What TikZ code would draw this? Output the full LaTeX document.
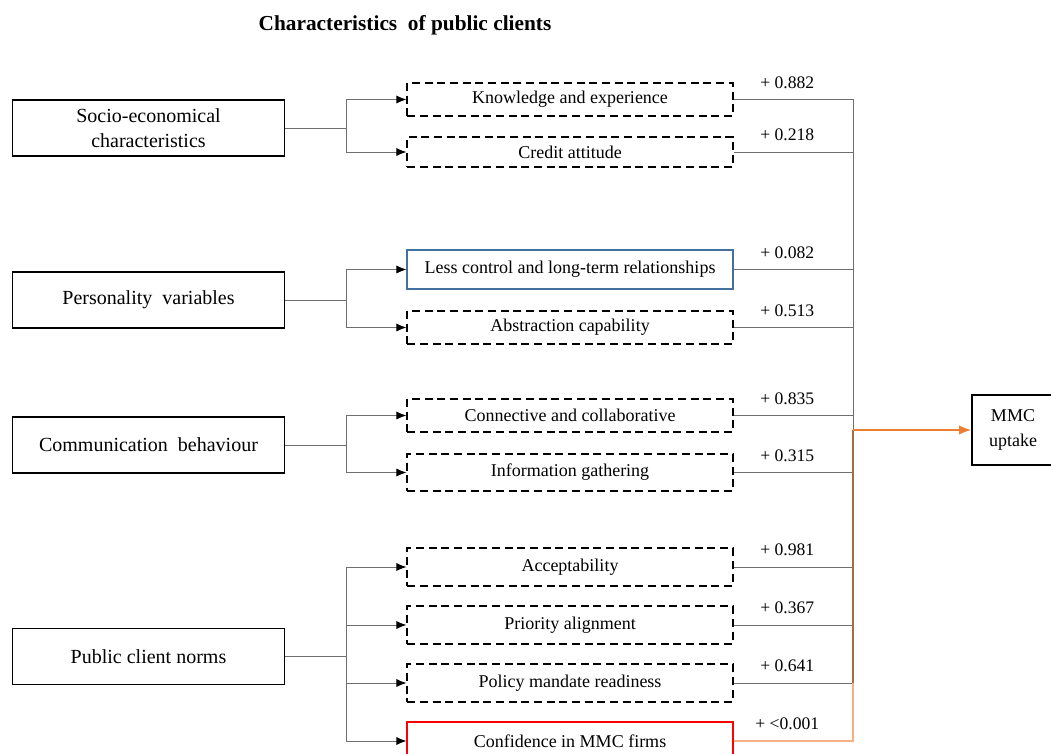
\documentclass[tikz,border=0pt]{standalone}
\usepackage{fontspec}
\setmainfont{Liberation Serif}
\usetikzlibrary{arrows.meta}
\definecolor{boxblue}{HTML}{41719C}
\definecolor{linkgray}{HTML}{6F6F6F}
\definecolor{uporange}{HTML}{ED7D31}
\definecolor{upbrown}{HTML}{A86A42}
\definecolor{uplight}{HTML}{F4B183}
\tikzset{
	groupbox/.style={draw, line width=1.4pt, minimum width=204pt, minimum height=42pt,
		align=center, font=\fontsize{15}{19}\selectfont},
	factor/.style={draw, line width=1.3pt, dash pattern=on 6pt off 3.5pt,
		minimum width=244pt, minimum height=28pt, font=\fontsize{13.5}{16}\selectfont},
	link/.style={draw=linkgray, line width=0.6pt, -{Latex[length=7.5pt,width=6pt,color=black]}},
	rlink/.style={draw=linkgray, line width=0.6pt},
	val/.style={above=7pt, pos=0.45, inner sep=1pt, font=\fontsize{13.2}{16}\selectfont},
}
\newcommand{\branchto}[2]{%
	\draw[link] (#1.east) -- ++(61,0) |- (#2.west);
}

\begin{document}
\begin{tikzpicture}[x=0.75pt, y=-0.75pt]
	\useasboundingbox (0,0) rectangle (1051,754);
	\node[font=\fontsize{16}{19}\selectfont\bfseries] (title) at (405,25) {Characteristics\ \ of public clients};
	% groups of client characteristics
	\node[groupbox] (soc) at (148.5,128) {Socio-economical\\characteristics};
	\node[groupbox] (pers) at (148.5,300) {Personality\ \ variables};
	\node[groupbox] (comm) at (148.5,445) {Communication\ \ behaviour};
	\node[groupbox] (norm) at (148.5,656.5) {Public client norms};
	% factors
	\node[factor, minimum height=25pt] (know) at (570,99.5) {Knowledge and experience};
	\node[factor, minimum height=22.5pt] (cred) at (570,152) {Credit attitude};
	\node[factor, solid, draw=boxblue, minimum height=29pt] (less) at (570,269.5) {Less control and long-term relationships};
	\node[factor, minimum height=25pt] (abst) at (570,327.5) {Abstraction capability};
	\node[factor, minimum height=25pt] (conn) at (570,415.5) {Connective and collaborative};
	\node[factor] (info) at (570,472.5) {Information gathering};
	\node[factor] (acc) at (570,567) {Acceptability};
	\node[factor] (prio) at (570,625) {Priority alignment};
	\node[factor] (pol) at (570,683) {Policy mandate readiness};
	\node[factor, solid, draw=red] (conf) at (570,741) {Confidence in MMC firms};
	\node[draw, line width=1.4pt, minimum width=61.5pt, minimum height=52.5pt, align=center,
		font=\fontsize{13.5}{19}\selectfont] (mmc) at (1013,430) {MMC\\uptake};
	\coordinate (bus) at (853,430);
	% branches
	\branchto{soc}{know}
	\branchto{soc}{cred}
	\branchto{pers}{less}
	\branchto{pers}{abst}
	\branchto{comm}{conn}
	\branchto{comm}{info}
	\foreach \f in {acc,prio,pol,conf}{
		\branchto{norm}{\f}}
	% loadings
	\foreach \f/\w in {know/0.882,cred/0.218,less/0.082,abst/0.513,conn/0.835,info/0.315,acc/0.981,prio/0.367,pol/0.641}{
		\draw[rlink] (\f.east) -- node[val]{+ \w} (\f.east -| bus) -- (bus);}
	\draw[uplight, line width=0.9pt] (conf.east) -- node[val, black]{+ <0.001} (conf.east -| bus) -- (pol.east -| bus);
	\draw[upbrown, line width=0.9pt] (pol.east -| bus) -- (bus);
	\draw[uporange, line width=0.9pt, -{Latex[length=9pt,width=7pt]}] (bus) -- (mmc.west);
\end{tikzpicture}
\end{document}
